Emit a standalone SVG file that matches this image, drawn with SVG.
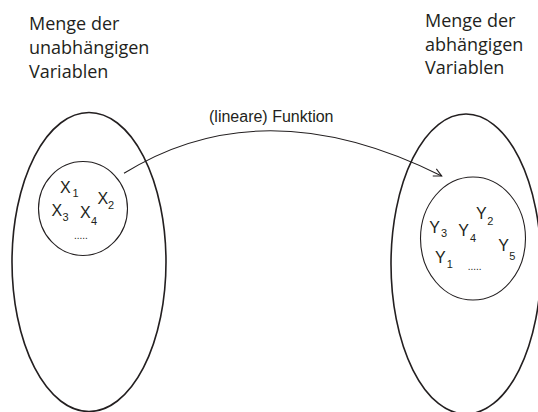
<svg xmlns="http://www.w3.org/2000/svg" width="538" height="412" viewBox="0 0 538 412">
<style>
.t{font-family:"Open Sans","Noto Sans",sans-serif;font-size:18px;fill:#231f20}
.v{font-family:"Liberation Sans",Arial,sans-serif;font-size:16px;fill:#231f20}
.s{font-size:11px}
.d{font-family:"Liberation Sans",Arial,sans-serif;font-size:10px;fill:#231f20}
.outer{fill:none;stroke:#231f20;stroke-width:1.6}
.inner{fill:none;stroke:#231f20;stroke-width:1.1}
.conn{fill:none;stroke:#231f20;stroke-width:1.1}
</style>
<defs>
<marker id="ah" markerWidth="10" markerHeight="10" refX="9" refY="5" orient="auto" markerUnits="userSpaceOnUse">
<path d="M1,1 L9,5 L1,9" fill="none" stroke="#231f20" stroke-width="1.1"/>
</marker>
</defs>
<rect width="538" height="412" fill="#fff"/>
<g id="label-left">
<text class="t" x="29" y="30">Menge der</text>
<text class="t" x="29" y="54">unabhängigen</text>
<text class="t" x="29" y="78">Variablen</text>
</g>
<g id="label-right">
<text class="t" x="425" y="27">Menge der</text>
<text class="t" x="425" y="50.5">abhängigen</text>
<text class="t" x="425" y="74">Variablen</text>
</g>
<g id="set-independent">
<ellipse class="outer" cx="89" cy="262" rx="77" ry="149.5"/>
</g>
<g id="subset-x">
<ellipse class="inner" cx="83" cy="208.5" rx="44.5" ry="47"/>
<text class="v" x="60" y="193">X<tspan class="s" x="72.5" y="197">1</tspan></text>
<text class="v" x="97.5" y="204">X<tspan class="s" x="108" y="209">2</tspan></text>
<text class="v" x="51.5" y="216">X<tspan class="s" x="62.5" y="221">3</tspan></text>
<text class="v" x="80" y="218">X<tspan class="s" x="91" y="225">4</tspan></text>
<text class="d" x="74" y="238.5">.....</text>
</g>
<g id="set-dependent">
<ellipse class="outer" cx="466" cy="264" rx="75" ry="150"/>
</g>
<g id="subset-y">
<ellipse class="inner" cx="473" cy="238.5" rx="52.5" ry="61.5"/>
<text class="v" x="476" y="219.3">Y<tspan class="s" x="487.3" y="225">2</tspan></text>
<text class="v" x="429.3" y="233.3">Y<tspan class="s" x="441" y="237.3">3</tspan></text>
<text class="v" x="458.3" y="236">Y<tspan class="s" x="470" y="241.7">4</tspan></text>
<text class="v" x="498.3" y="250.7">Y<tspan class="s" x="509.3" y="260">5</tspan></text>
<text class="v" x="435" y="263.3">Y<tspan class="s" x="446.7" y="268.3">1</tspan></text>
<text class="d" x="467.7" y="269.5">.....</text>
</g>
<g id="connectors">
<path class="conn" d="M124,173.3 Q263,87 441.7,176" marker-end="url(#ah)"/>
<text class="v" x="209" y="121.5">(lineare) Funktion</text>
</g>
</svg>
